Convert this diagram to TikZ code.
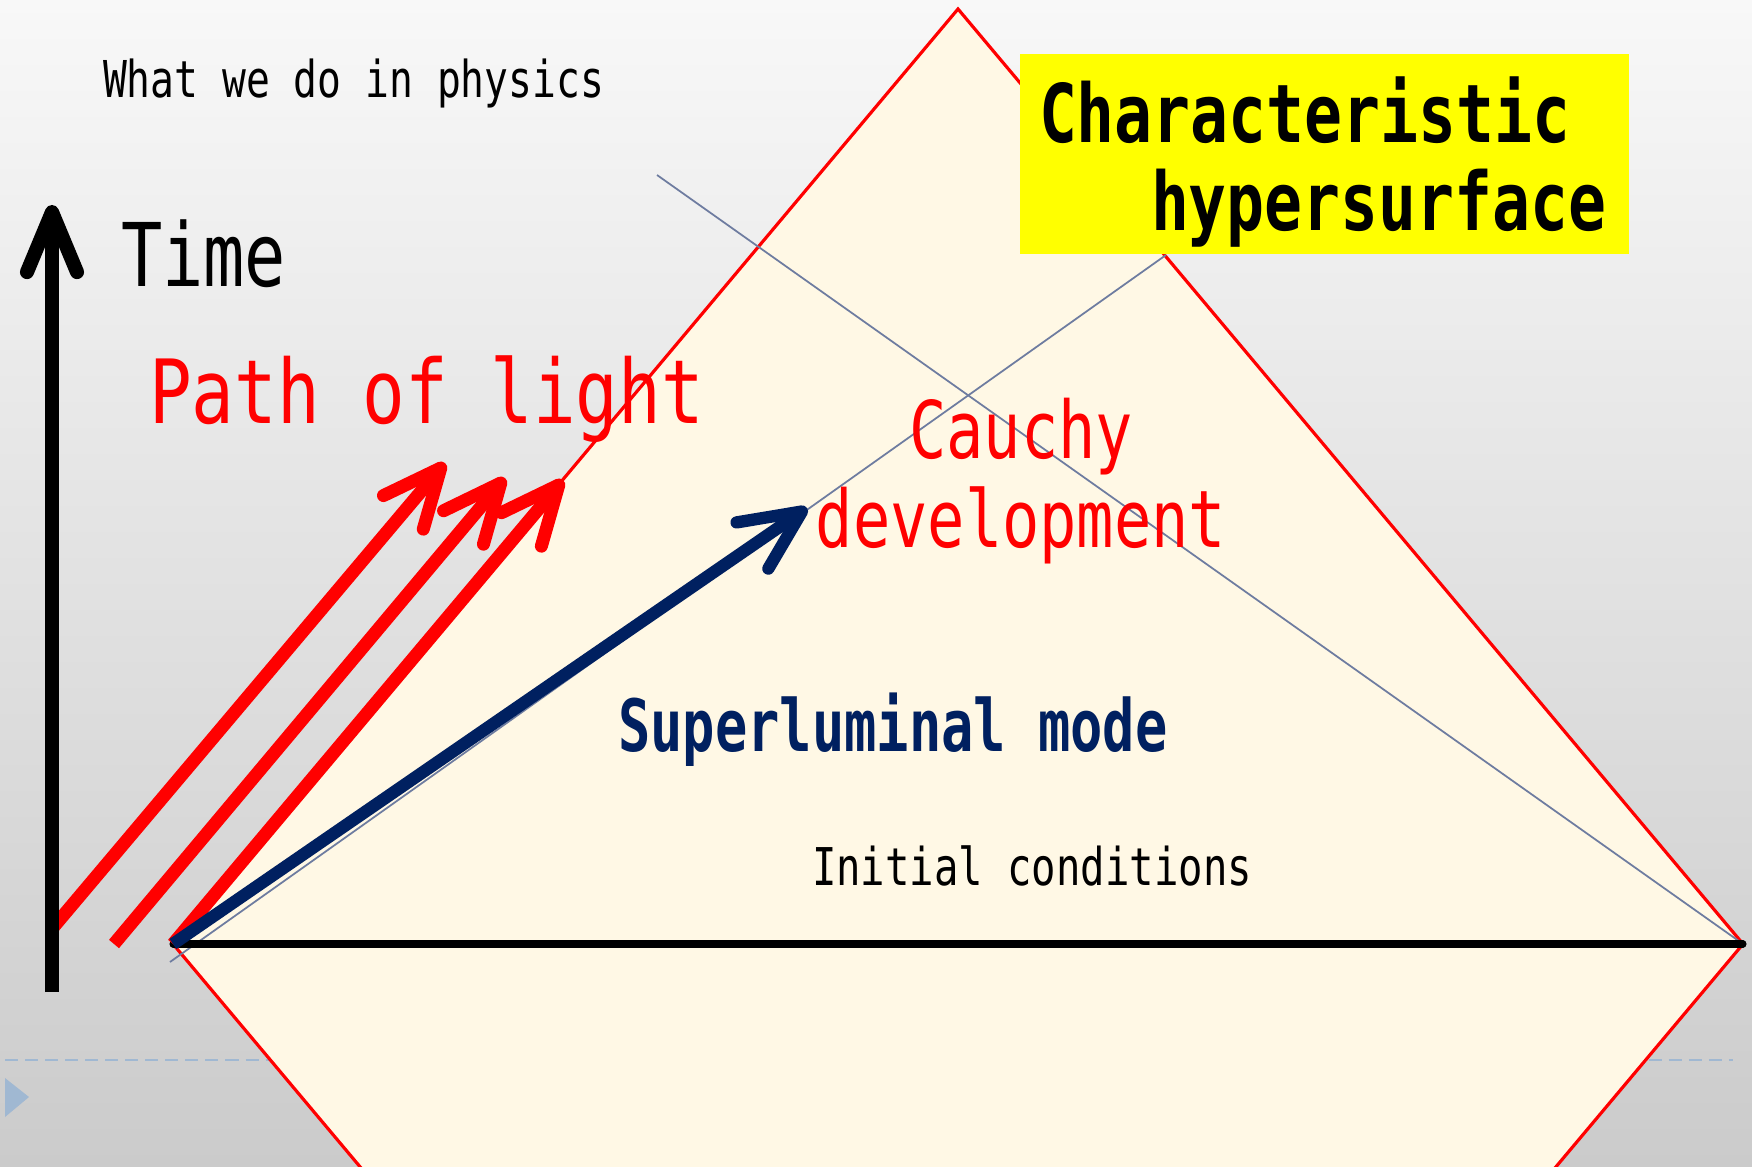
\documentclass[tikz,border=0pt]{standalone}
\usepackage{fontspec}
\usetikzlibrary{arrows.meta}
\newfontfamily\gfont[FakeStretch=0.78]{DejaVu Sans Mono}
\newfontfamily\gfontwide[FakeStretch=0.80]{DejaVu Sans Mono}
\newfontfamily\gfontnarrow[FakeStretch=0.745]{DejaVu Sans Mono}
\definecolor{cream}{RGB}{255,248,229}
\definecolor{navy}{RGB}{0,32,96}
\definecolor{slate}{RGB}{110,124,160}
\definecolor{dashblue}{RGB}{160,184,210}
\definecolor{bgtop}{RGB}{248,248,248}
\definecolor{bgbot}{RGB}{203,203,203}
\definecolor{hlyellow}{RGB}{255,255,0}
\definecolor{pured}{RGB}{255,0,0}
\tikzset{
  txt/.style={inner sep=0pt, outer sep=0pt},
  lightray/.style={draw=pured, line width=3.7pt, -{Straight Barb[length=0.58cm, width=0.52cm, round]}},
  fastray/.style={draw=navy, line width=3.5pt, -{Straight Barb[length=0.6cm, width=0.56cm, round]}},
  timeaxis/.style={draw=black, line width=4pt, -{Straight Barb[length=0.6cm, width=0.5cm, round]}},
  slateline/.style={draw=slate, line width=0.5pt},
  dashline/.style={draw=dashblue, line width=0.6pt, dash pattern=on 3.7pt off 2pt},
  conebox/.style={fill=cream, draw=pured, line width=0.9pt},
}
\begin{document}
\begin{tikzpicture}[x=0.01cm,y=-0.01cm]
\clip (0,0) rectangle (1752,1167);
\shade[top color=bgtop,bottom color=bgbot] (0,0) rectangle (1752,1167);
% coordinates
\coordinate (apex) at (958,9);
\coordinate (R) at (1743,944);
\coordinate (B) at (958,1879);
\coordinate (L) at (173,944);
\coordinate (dashL) at (5,1060);
\coordinate (dashR) at (1733,1060);
% dashed guide and marker
\draw[dashline] (dashL) -- (dashR);
\fill[dashblue] (5,1078) -- (29,1097) -- (5,1117) -- cycle;
% light cone diamond
\path[conebox] (apex) -- (R) -- (B) -- (L) -- cycle;
% characteristic lines
\coordinate (s1a) at (657,175);
\coordinate (s2a) at (170,962);
\coordinate (s2b) at (1166,255);
\draw[slateline] (s1a) -- (R);
\draw[slateline] (s2a) -- (s2b);
% initial surface
\draw[line width=2pt, line cap=round] (L) -- (R);
% light rays
\coordinate (r1a) at (51,930);
\coordinate (r1b) at (445,463);
\coordinate (r2a) at (114,944);
\coordinate (r2b) at (505,478);
\coordinate (r3b) at (563,480);
\draw[lightray] (r1a) -- (r1b);
\draw[lightray] (r2a) -- (r2b);
\draw[lightray] (L) -- (r3b);
% superluminal ray
\coordinate (nb) at (807,508);
\draw[fastray] (L) -- (nb);
% time axis
\coordinate (t0) at (52,992);
\coordinate (t1) at (52,205);
\draw[timeaxis] (t0) -- (t1);
% texts
\node[txt, anchor=base west, font=\gfont\fontsize{14.45}{17}\selectfont] (what) at (103,98) {What we do in physics};
\node[txt, anchor=base west, font=\gfont\fontsize{25}{30}\selectfont] (time) at (121,287) {Time};
\node[txt, anchor=base west, text=pured, font=\gfontwide\fontsize{25.2}{30}\selectfont] (path) at (149,423) {Path of light};
\node[txt, anchor=base, text=pured, font=\gfont\fontsize{22.6}{27}\selectfont] (cauchy) at (1021,458) {Cauchy};
\node[txt, anchor=base, text=pured, font=\gfont\fontsize{22.6}{27}\selectfont] (devel) at (1021,547) {development};
\node[txt, anchor=base west, text=navy, font=\gfontnarrow\bfseries\fontsize{20.5}{24}\selectfont] (superl) at (618,751) {Superluminal mode};
\node[txt, anchor=base west, font=\gfont\fontsize{14.8}{18}\selectfont] (init) at (812,885) {Initial conditions};
% yellow label
\node[fill=hlyellow, inner sep=0pt, minimum width=6.09cm, minimum height=2cm] (box) at (1324.5,154) {};
\node[txt, anchor=base west, font=\gfont\bfseries\fontsize{23}{27}\selectfont] (char1) at (1039,143) {Characteristic};
\node[txt, anchor=base west, font=\gfont\bfseries\fontsize{23}{27}\selectfont] (char2) at (1151,231) {hypersurface};
\end{tikzpicture}
\end{document}
